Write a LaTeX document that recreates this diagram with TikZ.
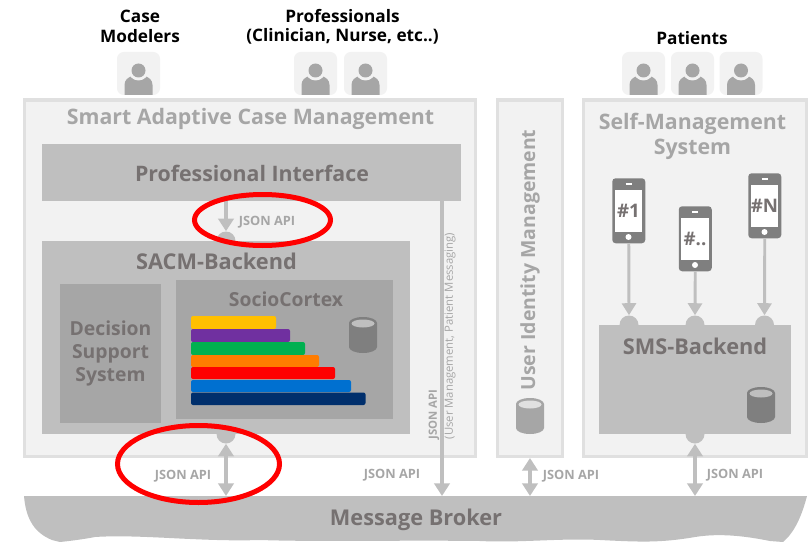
\documentclass[tikz,border=0pt]{standalone}
\usepackage{fontspec}
\setmainfont{Open Sans}
\usetikzlibrary{arrows.meta,shapes.geometric}
\definecolor{panelline}{HTML}{E0E0E0}
\definecolor{panelfill}{HTML}{F2F2F2}
\definecolor{midgray}{HTML}{BFBFBF}
\definecolor{darkgray}{HTML}{A6A6A6}
\definecolor{cylgray}{HTML}{7F7F7F}
\definecolor{textgray}{HTML}{767171}
\definecolor{barnavy}{HTML}{002F6C}
\definecolor{barblue}{HTML}{0070D0}
\definecolor{barorange}{HTML}{FF7C00}
\definecolor{bargreen}{HTML}{00B050}
\definecolor{barpurple}{HTML}{7030A0}
\definecolor{baryellow}{HTML}{FFC000}
\tikzset{
  size/.style 2 args={minimum width=#1*0.75pt,minimum height=#2*0.75pt,inner sep=0pt},
  outerbox/.style={draw=panelline,fill=panelfill,line width=2.25pt},
  midbox/.style={fill=midgray},
  innerbox/.style={fill=darkgray},
  actorlabel/.style={font=\bfseries\fontsize{12.9}{14.6}\selectfont,align=center,text=black},
  title/.style={font=\bfseries\fontsize{16}{18.8}\selectfont,align=center,text=darkgray},
  midtitle/.style={font=\bfseries\fontsize{16.3}{17}\selectfont,align=center,text=textgray},
  apilabel/.style={font=\bfseries\fontsize{9.6}{11}\selectfont,text=darkgray},
  lollipop/.style={circle,fill=midgray,size={19}{19}},
  link/.style={draw=midgray,line width=3.4pt,-{Triangle[width=11.5pt,length=9.5pt]}},
  duplex/.style={draw=midgray,line width=3.4pt,{Triangle[width=11.5pt,length=9.5pt]}-{Triangle[width=11.5pt,length=9.5pt]}},
  phonelink/.style={draw=midgray,line width=2.2pt,-{Triangle[width=10.5pt,length=9pt]}},
  bar/.style={rounded corners=1.5pt},
  ringmark/.style={ellipse,draw=red,line width=3.75pt,inner sep=0pt},
  person/.pic={
    \fill[panelfill,rounded corners=5pt] (0,0) rectangle (43,43);
    \fill[darkgray] (7.5,43) -- (7.5,33) .. controls (7.5,28) and (11,25.5) .. (15,24) -- (28,24)
      .. controls (32,25.5) and (35.5,28) .. (35.5,33) -- (35.5,43) -- cycle;
    \fill[panelfill] (21.5,18.5) circle[radius=10];
    \fill[darkgray] (21.5,18.5) circle[radius=7];
  },
  phone/.pic={
    \node[fill=cylgray,rounded corners=2.5pt,size={33}{65},anchor=north west] (-body) at (0,0) {};
    \node[fill=white,size={27.5}{42},font=\bfseries\fontsize{14}{14}\selectfont,text=textgray] (-screen) at (16.5,32.5) {\tikzpictext};
    \fill[white] (16.5,59) circle[radius=3];
    \draw[white,line width=0.8pt] (13.5,6) -- (19.5,6);
  },
  pics/store/.style 2 args={code={
    \fill[#1] (0,6) -- (0,30) arc[start angle=180,end angle=360,x radius=14,y radius=-6] -- (28,6) arc[start angle=0,end angle=180,x radius=14,y radius=-6] -- cycle;
    \fill[#2] (14,6.5) ellipse[x radius=11.5,y radius=4];
  }},
}
\begin{document}
\begin{tikzpicture}[x=0.75pt,y=-0.75pt]
\useasboundingbox (0,0) rectangle (810,542);

% Actors
\node[actorlabel] (modelers) at (140,26.5) {Case\\Modelers};
\node[actorlabel] (professionals) at (342.5,27) {Professionals\\(Clinician, Nurse, etc..)};
\node[actorlabel] (patients) at (692,38) {Patients};
\pic at (117,52) {person};
\pic at (294,52) {person};
\pic at (344,52) {person};
\pic at (622,52) {person};
\pic at (671,52) {person};
\pic at (719.5,52) {person};

% Outer panels
\node[outerbox,size={451}{356}] (sacm) at (249.5,278) {};
\node[outerbox,size={65}{356}] (identity) at (529.5,278) {};
\node[outerbox,size={223}{356}] (selfmgmt) at (694.5,278) {};
\node[title] (sacmtitle) at (250.5,119) {Smart Adaptive Case Management};
\node[title] (selftitle) at (692.5,136) {Self-Management\\System};
\node[title,rotate=90,font=\bfseries\fontsize{14.6}{17}\selectfont] (identitytitle) at (530,260) {User Identity Management};

% Lollipops go under the boxes
\node[lollipop] (llapi) at (226,241) {};
\node[lollipop] (llsacm) at (226,434) {};
\node[lollipop] (llone) at (629,325) {};
\node[lollipop] (lltwo) at (695,325) {};
\node[lollipop] (llthree) at (764.5,325) {};
\node[lollipop] (llsms) at (695,434) {};

% Inner boxes
\node[midbox,size={419}{57}] (profif) at (251.5,172.5) {};
\node[midtitle,font=\bfseries\fontsize{16}{17}\selectfont] (profiftitle) at (252,173) {Professional Interface};
\node[midbox,size={368}{193}] (backend) at (226,337.5) {};
\node[midtitle] (backendtitle) at (216.5,261) {SACM-Backend};
\node[innerbox,size={101}{139},midtitle,font=\bfseries\fontsize{14.5}{17}\selectfont] (decision) at (110.5,353.5) {Decision\\Support\\System};
\node[innerbox,size={217}{139}] (socio) at (284.5,349.5) {};
\node[midtitle,font=\bfseries\fontsize{14.5}{16}\selectfont] (sociotitle) at (286,299) {SocioCortex};
\node[midbox,size={192}{109}] (smsback) at (695,379.5) {};
\node[midtitle] (smstitle) at (695,346) {SMS-Backend};

% Stacked bars
\fill[bar,baryellow] (191,316) rectangle (276,329);
\fill[bar,barpurple] (191,329) rectangle (290,342);
\fill[bar,bargreen] (191,342) rectangle (305,355);
\fill[bar,barorange] (191,355) rectangle (319,367);
\fill[bar,red] (191,367) rectangle (335,379);
\fill[bar,barblue] (191,380) rectangle (351,392);
\fill[bar,barnavy] (191,392.5) rectangle (365.5,405);

% Databases
\pic at (349,317) {store={cylgray}{midgray}};
\pic at (747,387) {store={cylgray}{midgray}};
\pic at (516,398) {store={darkgray}{panelline}};

% Phones
\pic[pic text={\#1}] (phone1) at (612,178) {phone};
\pic[pic text={\#..}] (phone2) at (678.5,206) {phone};
\pic[pic text={\#N}] (phone3) at (748,173) {phone};

% Message broker
\fill[midgray] (24,496) -- (807,496) .. controls (802,515) and (795,532) .. (783,542) -- (770,541)
  .. controls (745,536) and (720,533) .. (695,537) .. controls (660,543) and (640,542) .. (600,540)
  .. controls (560,538) and (520,543) .. (480,541) .. controls (400,540) and (320,542) .. (260,540)
  .. controls (200,542) and (140,534) .. (95,537) .. controls (85,539) and (70,541) .. (60,542)
  -- (52,540) .. controls (35,533) and (26,520) .. (24,496) -- cycle;
\node[midtitle] (broker) at (416,520) {Message Broker};
\coordinate (brokersacm) at (226,496);
\coordinate (brokerprof) at (442,496);
\coordinate (brokerid) at (530,496);
\coordinate (brokersms) at (695,496);
\coordinate (profifdown) at (442,201);
\coordinate (profifapi) at (226,201);
\coordinate (idbottom) at (530,458);

% Connectors
\draw[link] (profifapi) -- (llapi.north);
\draw[link] (profifdown) -- (brokerprof);
\draw[duplex] (llsacm.south) -- (brokersacm);
\draw[duplex] (idbottom) -- (brokerid);
\draw[duplex] (llsms.south) -- (brokersms);
\draw[phonelink] (phone1-body.south) -- (llone.north);
\draw[phonelink] (phone2-body.south) -- (lltwo.north);
\draw[phonelink] (phone3-body.south) -- (llthree.north);

% API labels
\node[apilabel] (apitop) at (267,222) {JSON API};
\node[apilabel] (apisacm) at (183,476) {JSON API};
\node[apilabel] (apiprof) at (392,475.5) {JSON API};
\node[apilabel] (apiid) at (571,476) {JSON API};
\node[apilabel] (apisms) at (735,475.5) {JSON API};
\node[rotate=90,anchor=west,align=left,text=darkgray,font=\fontsize{8.5}{12}\selectfont] (apinote) at (442,444) {\textbf{JSON API}\\(User Management, Patient Messaging)};

% Highlights
\node[ringmark,size={136}{51}] (ringtop) at (262.5,220) {};
\node[ringmark,size={162}{77}] (ringbottom) at (198.5,464) {};
\end{tikzpicture}
\end{document}
